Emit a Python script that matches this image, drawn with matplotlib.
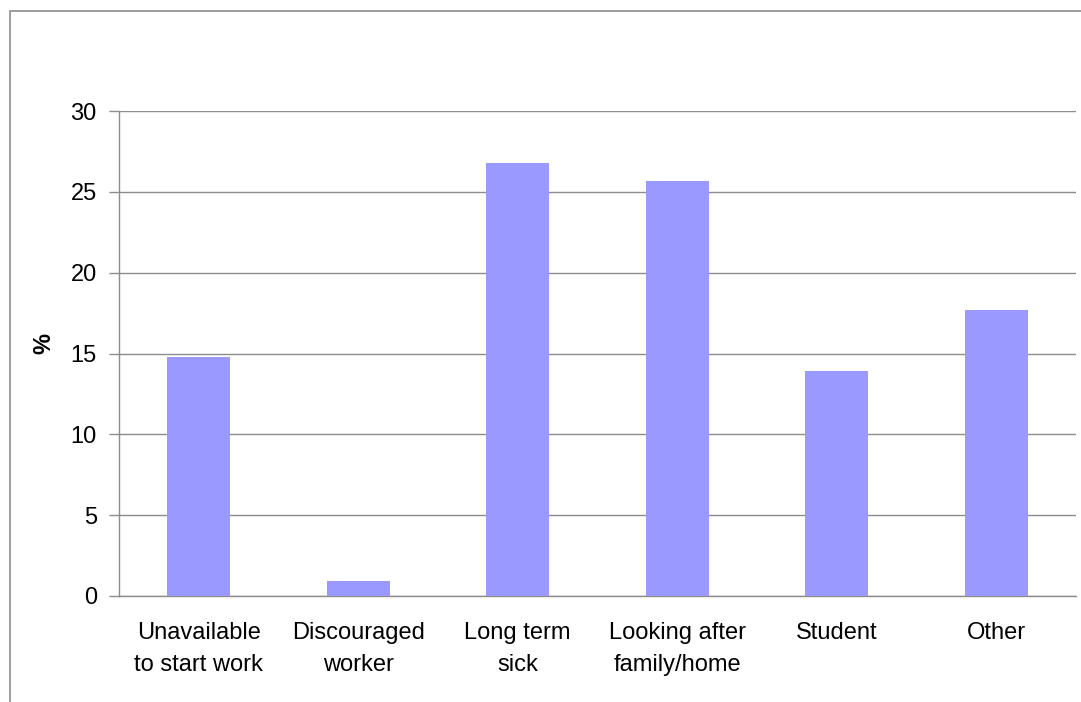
import matplotlib
matplotlib.use("Agg")
import matplotlib.pyplot as plt
from matplotlib.patches import Rectangle

categories = ["Unavailable\nto start work", "Discouraged\nworker", "Long term\nsick",
              "Looking after\nfamily/home", "Student", "Other"]
values = [14.8, 0.9, 26.8, 25.7, 13.9, 17.7]
y_ticks = [0, 5, 10, 15, 20, 25, 30]

plt.rcParams['font.family'] = ['Liberation Sans', 'DejaVu Sans']

W, H = 1081, 702
fig = plt.figure(figsize=(W / 100, H / 100), dpi=100)

# outer chart frame (runs past the right and bottom edges)
fig.patches.append(Rectangle((10 / W, -0.1), 1.2, 1 - 11 / H + 0.1,
                             transform=fig.transFigure, fill=False,
                             edgecolor='#8c8c8c', linewidth=1.2))

left, right = 119 / W, 1076 / W
top, bottom = 1 - 111 / H, 1 - 596 / H
ax = fig.add_axes([left, bottom, right - left, top - bottom])

x = range(len(categories))
ax.bar(x, values, width=0.395, color='#9999FF', zorder=3)

fs = 17
ax.set_xlim(-0.5, len(categories) - 0.5)
ax.set_ylim(0, 30)
ax.set_yticks(y_ticks)
ax.set_yticklabels([str(t) for t in y_ticks], fontsize=fs)
ax.set_xticks(list(x))
ax.set_xticklabels(categories, fontsize=fs, linespacing=1.55)
ax.tick_params(axis='x', length=0, pad=19)
ax.tick_params(axis='y', length=7, width=1, color='#8c8c8c', pad=9)

ax.grid(axis='y', color='#8c8c8c', linewidth=1, zorder=0)
for s in ['top', 'right']:
    ax.spines[s].set_visible(False)
for s in ['left', 'bottom']:
    ax.spines[s].set_color('#8c8c8c')
    ax.spines[s].set_linewidth(1)

ax.set_ylabel('%', fontsize=fs, fontweight='bold')
ax.yaxis.set_label_coords(-0.078, 0.52)
ax.yaxis.label.set_verticalalignment('center')

fig.savefig('out.png', dpi=100, facecolor='white')
